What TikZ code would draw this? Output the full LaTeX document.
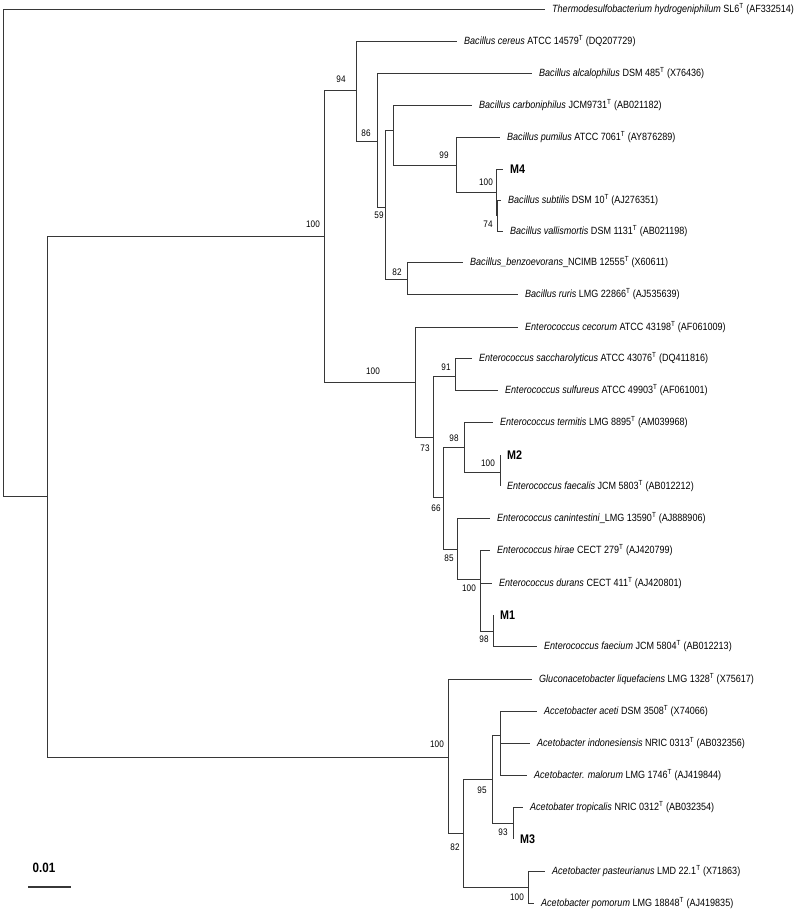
\documentclass[tikz,border=0pt]{standalone}
\usepackage{fontspec}
\setmainfont{Liberation Sans}[FakeStretch=0.86]
\usetikzlibrary{positioning}
\definecolor{treegray}{RGB}{55,55,55}

\begin{document}
\begin{tikzpicture}[x=1pt,y=-1pt,node distance=7pt,
    br/.style={draw=treegray,line width=1pt},
    sp/.style={inner sep=0pt,font=\fontsize{10.5}{12}\selectfont},
    iso/.style={inner sep=0pt,font=\fontsize{12.5}{14}\selectfont\bfseries},
    bs/.style={inner sep=0pt,font=\fontsize{9.5}{11}\selectfont}]
  \useasboundingbox (0,0) rectangle (800,911);
  % internal nodes
  \coordinate (root) at (3,252);
  \coordinate (nA) at (47,496);
  \coordinate (nF) at (324,236);
  \coordinate (nB) at (356,90);
  \coordinate (nB2) at (377,141);
  \coordinate (nB3) at (385,207);
  \coordinate (nB4) at (393,130);
  \coordinate (nB5) at (456,165);
  \coordinate (nB6) at (496,192);
  \coordinate (nB7) at (497,215);
  \coordinate (nB8) at (407,279);
  \coordinate (nE) at (415,382);
  \coordinate (nE2) at (433,437);
  \coordinate (nE3) at (455,376);
  \coordinate (nE4) at (443,497);
  \coordinate (nE5) at (464,447);
  \coordinate (nE6) at (500,472);
  \coordinate (nE7) at (457,549);
  \coordinate (nE8) at (480,579);
  \coordinate (nE9) at (493,631);
  \coordinate (nG) at (448,757);
  \coordinate (nG2) at (463,833);
  \coordinate (nG3) at (492,779);
  \coordinate (nG4) at (500,735);
  \coordinate (nG5) at (513,823);
  \coordinate (nG6) at (528,887);
  % tips
  \coordinate (tthe) at (545,9);
  \coordinate (tcer) at (457,41);
  \coordinate (talc) at (532,73);
  \coordinate (tcar) at (472,105);
  \coordinate (tpum) at (500,137);
  \coordinate (tm4) at (503,169);
  \coordinate (tsub) at (501,200);
  \coordinate (tval) at (503,231);
  \coordinate (tben) at (463,262);
  \coordinate (trur) at (518,294);
  \coordinate (tcec) at (518,327);
  \coordinate (tsac) at (472,358);
  \coordinate (tsul) at (498,390);
  \coordinate (tter) at (493,422);
  \coordinate (tm2) at (500,455);
  \coordinate (tfae) at (500,486);
  \coordinate (tcan) at (490,518);
  \coordinate (thir) at (490,550);
  \coordinate (tdur) at (492,583);
  \coordinate (tm1) at (493,615);
  \coordinate (tfci) at (537,646);
  \coordinate (tglu) at (532,679);
  \coordinate (tace) at (537,711);
  \coordinate (tind) at (530,743);
  \coordinate (tmal) at (527,775);
  \coordinate (ttro) at (523,807);
  \coordinate (tm3) at (513,839);
  \coordinate (tpas) at (545,871);
  \coordinate (tpom) at (534,903);

  % branches
  \draw[br] (root) |- (tthe) (root) |- (nA);
  \draw[br] (nA) |- (nF) (nA) |- (nG);
  \draw[br] (nF) |- (nB) (nF) |- (nE);
  \draw[br] (nB) |- (tcer) (nB) |- (nB2);
  \draw[br] (nB2) |- (talc) (nB2) |- (nB3);
  \draw[br] (nB3) |- (nB4) (nB3) |- (nB8);
  \draw[br] (nB4) |- (tcar) (nB4) |- (nB5);
  \draw[br] (nB5) |- (tpum) (nB5) |- (nB6);
  \draw[br] (nB6) |- (tm4) (nB6) |- (nB7);
  \draw[br] (nB7) |- (tsub) (nB7) |- (tval);
  \draw[br] (nB8) |- (tben) (nB8) |- (trur);
  \draw[br] (nE) |- (tcec) (nE) |- (nE2);
  \draw[br] (nE2) |- (nE3) (nE2) |- (nE4);
  \draw[br] (nE3) |- (tsac) (nE3) |- (tsul);
  \draw[br] (nE4) |- (nE5) (nE4) |- (nE7);
  \draw[br] (nE5) |- (tter) (nE5) |- (nE6);
  \draw[br] (nE6) |- (tm2) (nE6) |- (tfae);
  \draw[br] (nE7) |- (tcan) (nE7) |- (nE8);
  \draw[br] (nE8) |- (thir) (nE8) |- (tdur) (nE8) |- (nE9);
  \draw[br] (nE9) |- (tm1) (nE9) |- (tfci);
  \draw[br] (nG) |- (tglu) (nG) |- (nG2);
  \draw[br] (nG2) |- (nG3) (nG2) |- (nG6);
  \draw[br] (nG3) |- (nG4) (nG3) |- (nG5);
  \draw[br] (nG4) |- (tace) (nG4) |- (tind) (nG4) |- (tmal);
  \draw[br] (nG5) |- (ttro) (nG5) |- (tm3);
  \draw[br] (nG6) |- (tpas) (nG6) |- (tpom);

  % taxa
  \node[sp,right=of tthe] (the) {\textit{Thermodesulfobacterium hydrogeniphilum} SL6\textsuperscript{T} (AF332514)};
  \node[sp,right=of tcer] (cer) {\textit{Bacillus cereus} ATCC 14579\textsuperscript{T} (DQ207729)};
  \node[sp,right=of talc] (alc) {\textit{Bacillus alcalophilus} DSM 485\textsuperscript{T} (X76436)};
  \node[sp,right=of tcar] (car) {\textit{Bacillus carboniphilus} JCM9731\textsuperscript{T} (AB021182)};
  \node[sp,right=of tpum] (pum) {\textit{Bacillus pumilus} ATCC 7061\textsuperscript{T} (AY876289)};
  \node[iso,right=of tm4] (m4) {M4};
  \node[sp,right=of tsub] (sub) {\textit{Bacillus subtilis} DSM 10\textsuperscript{T} (AJ276351)};
  \node[sp,right=of tval] (val) {\textit{Bacillus vallismortis} DSM 1131\textsuperscript{T} (AB021198)};
  \node[sp,right=of tben] (ben) {\textit{Bacillus\_benzoevorans}\_NCIMB 12555\textsuperscript{T} (X60611)};
  \node[sp,right=of trur] (rur) {\textit{Bacillus ruris} LMG 22866\textsuperscript{T} (AJ535639)};
  \node[sp,right=of tcec] (cec) {\textit{Enterococcus cecorum} ATCC 43198\textsuperscript{T} (AF061009)};
  \node[sp,right=of tsac] (sac) {\textit{Enterococcus saccharolyticus} ATCC 43076\textsuperscript{T} (DQ411816)};
  \node[sp,right=of tsul] (sul) {\textit{Enterococcus sulfureus} ATCC 49903\textsuperscript{T} (AF061001)};
  \node[sp,right=of tter] (ter) {\textit{Enterococcus termitis} LMG 8895\textsuperscript{T} (AM039968)};
  \node[iso,right=of tm2] (m2) {M2};
  \node[sp,right=of tfae] (fae) {\textit{Enterococcus faecalis} JCM 5803\textsuperscript{T} (AB012212)};
  \node[sp,right=of tcan] (can) {\textit{Enterococcus canintestini}\_LMG 13590\textsuperscript{T} (AJ888906)};
  \node[sp,right=of thir] (hir) {\textit{Enterococcus hirae} CECT 279\textsuperscript{T} (AJ420799)};
  \node[sp,right=of tdur] (dur) {\textit{Enterococcus durans} CECT 411\textsuperscript{T} (AJ420801)};
  \node[iso,right=of tm1] (m1) {M1};
  \node[sp,right=of tfci] (fci) {\textit{Enterococcus faecium} JCM 5804\textsuperscript{T} (AB012213)};
  \node[sp,right=of tglu] (glu) {\textit{Gluconacetobacter liquefaciens} LMG 1328\textsuperscript{T} (X75617)};
  \node[sp,right=of tace] (ace) {\textit{Accetobacter aceti} DSM 3508\textsuperscript{T} (X74066)};
  \node[sp,right=of tind] (ind) {\textit{Acetobacter indonesiensis} NRIC 0313\textsuperscript{T} (AB032356)};
  \node[sp,right=of tmal] (mal) {\textit{Acetobacter. malorum} LMG 1746\textsuperscript{T} (AJ419844)};
  \node[sp,right=of ttro] (tro) {\textit{Acetobater tropicalis} NRIC 0312\textsuperscript{T} (AB032354)};
  \node[iso,right=of tm3] (m3) {M3};
  \node[sp,right=of tpas] (pas) {\textit{Acetobacter pasteurianus} LMD 22.1\textsuperscript{T} (X71863)};
  \node[sp,right=of tpom] (pom) {\textit{Acetobacter pomorum} LMG 18848\textsuperscript{T} (AJ419835)};

  % bootstrap values
  \node[bs] (bF) at (313,224) {100};
  \node[bs] (bB) at (341,79) {94};
  \node[bs] (bB2) at (366,133) {86};
  \node[bs] (bB3) at (379,215) {59};
  \node[bs] (bB5) at (444,155) {99};
  \node[bs] (bB6) at (486,182) {100};
  \node[bs] (bB7) at (488,224) {74};
  \node[bs] (bB8) at (397,272) {82};
  \node[bs] (bE) at (373,371) {100};
  \node[bs] (bE2) at (425,448) {73};
  \node[bs] (bE3) at (446,367) {91};
  \node[bs] (bE4) at (436,508) {66};
  \node[bs] (bE5) at (454,438) {98};
  \node[bs] (bE6) at (488,463) {100};
  \node[bs] (bE7) at (449,558) {85};
  \node[bs] (bE8) at (469,588) {100};
  \node[bs] (bE9) at (484,639) {98};
  \node[bs] (bG) at (437,744) {100};
  \node[bs] (bG2) at (455,847) {82};
  \node[bs] (bG3) at (482,790) {95};
  \node[bs] (bG5) at (503,832) {93};
  \node[bs] (bG6) at (517,897) {100};

  % scale bar
  \coordinate (sb1) at (28,887);
  \coordinate (sb2) at (71,887);
  \draw[treegray,line width=1.6pt] (sb1) -- (sb2);
  \node[inner sep=0pt,font=\fontsize{13.5}{15}\selectfont\bfseries] (sbl) at (44,868) {0.01};
\end{tikzpicture}
\end{document}
